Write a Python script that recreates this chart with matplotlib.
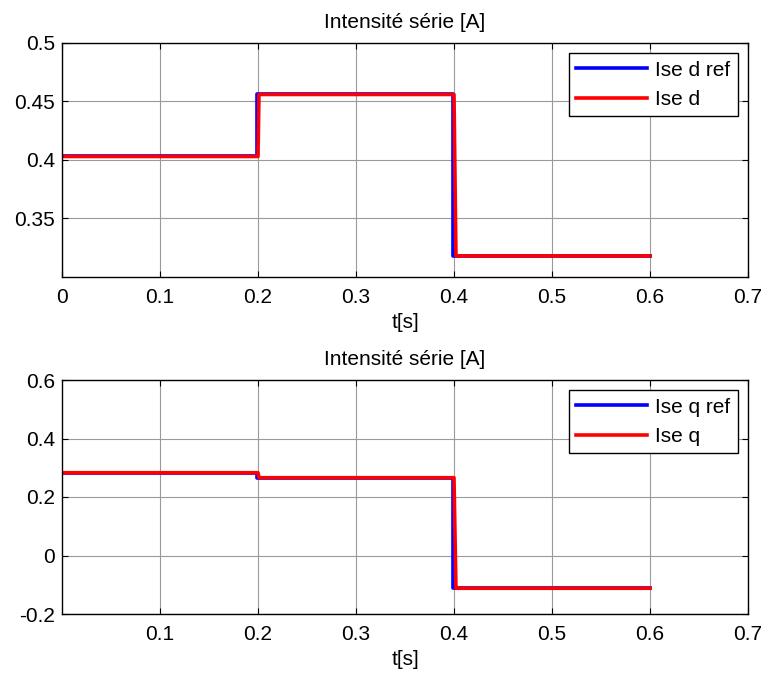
import matplotlib
matplotlib.use("Agg")
import matplotlib.pyplot as plt
import numpy as np

plt.rcParams['font.family'] = ['Liberation Sans', 'DejaVu Sans']

# Data (step signals)
t_ref = [0.0, 0.199, 0.199, 0.399, 0.399, 0.6]
t_meas = [0.0, 0.2, 0.201, 0.4, 0.402, 0.6]
ise_d_ref = [0.403, 0.403, 0.456, 0.456, 0.318, 0.318]
ise_d = [0.403, 0.403, 0.456, 0.456, 0.318, 0.318]
ise_q_ref = [0.283, 0.283, 0.266, 0.266, -0.112, -0.112]
ise_q = [0.283, 0.283, 0.266, 0.266, -0.112, -0.112]

top_yticks = [0.35, 0.4, 0.45, 0.5]
top_ylabels = ['0.35', '0.4', '0.45', '0.5']
bot_yticks = [-0.2, 0, 0.2, 0.4, 0.6]
bot_ylabels = ['-0.2', '0', '0.2', '0.4', '0.6']
top_xticks = [0, 0.1, 0.2, 0.3, 0.4, 0.5, 0.6, 0.7]
top_xlabels = ['0', '0.1', '0.2', '0.3', '0.4', '0.5', '0.6', '0.7']
bot_xticks = [0.1, 0.2, 0.3, 0.4, 0.5, 0.6, 0.7]
bot_xlabels = ['0.1', '0.2', '0.3', '0.4', '0.5', '0.6', '0.7']

fig = plt.figure(figsize=(7.61, 6.76), dpi=100)
W, H = 761, 676
ax1 = fig.add_axes([62 / W, 1 - 277 / H, (748 - 62) / W, (277 - 43) / H])
ax2 = fig.add_axes([62 / W, 1 - 614 / H, (748 - 62) / W, (614 - 380) / H])

fs = 15

def style(ax, xt, xl, yt, yl, ylim):
    ax.set_xlim(0, 0.7)
    ax.set_ylim(*ylim)
    ax.set_xticks(xt)
    ax.set_xticklabels(xl)
    ax.set_yticks(yt)
    ax.set_yticklabels(yl)
    ax.grid(True, color='#9a9a9a', linestyle='-', linewidth=0.8)
    ax.set_axisbelow(True)
    ax.tick_params(direction='in', top=True, right=True, labelsize=fs, length=4)
    ax.tick_params(axis='x', pad=8)
    ax.tick_params(axis='y', pad=5)
    for s in ax.spines.values():
        s.set_linewidth(1.0)
    ax.set_xlabel('t[s]', fontsize=fs, labelpad=4)
    ax.set_title('Intensité série [A]', fontsize=fs, pad=11)

ax1.plot(t_ref, ise_d_ref, color='#0000ff', lw=2.6, label='Ise d ref')
ax1.plot(t_meas, ise_d, color='#ff0000', lw=2.6, label='Ise d')
style(ax1, top_xticks, top_xlabels, top_yticks, top_ylabels, (0.3, 0.5))

ax2.plot(t_ref, ise_q_ref, color='#0000ff', lw=2.6, label='Ise q ref')
ax2.plot(t_meas, ise_q, color='#ff0000', lw=2.6, label='Ise q')
style(ax2, bot_xticks, bot_xlabels, bot_yticks, bot_ylabels, (-0.2, 0.6))

for ax in (ax1, ax2):
    leg = ax.legend(loc='upper right', fontsize=fs, fancybox=False, framealpha=1,
                    edgecolor='black', borderaxespad=0.5, handlelength=3.4,
                    handletextpad=0.4, borderpad=0.35, labelspacing=0.5)
    leg.get_frame().set_linewidth(1.0)

fig.savefig('out.png', dpi=100, facecolor='white')
